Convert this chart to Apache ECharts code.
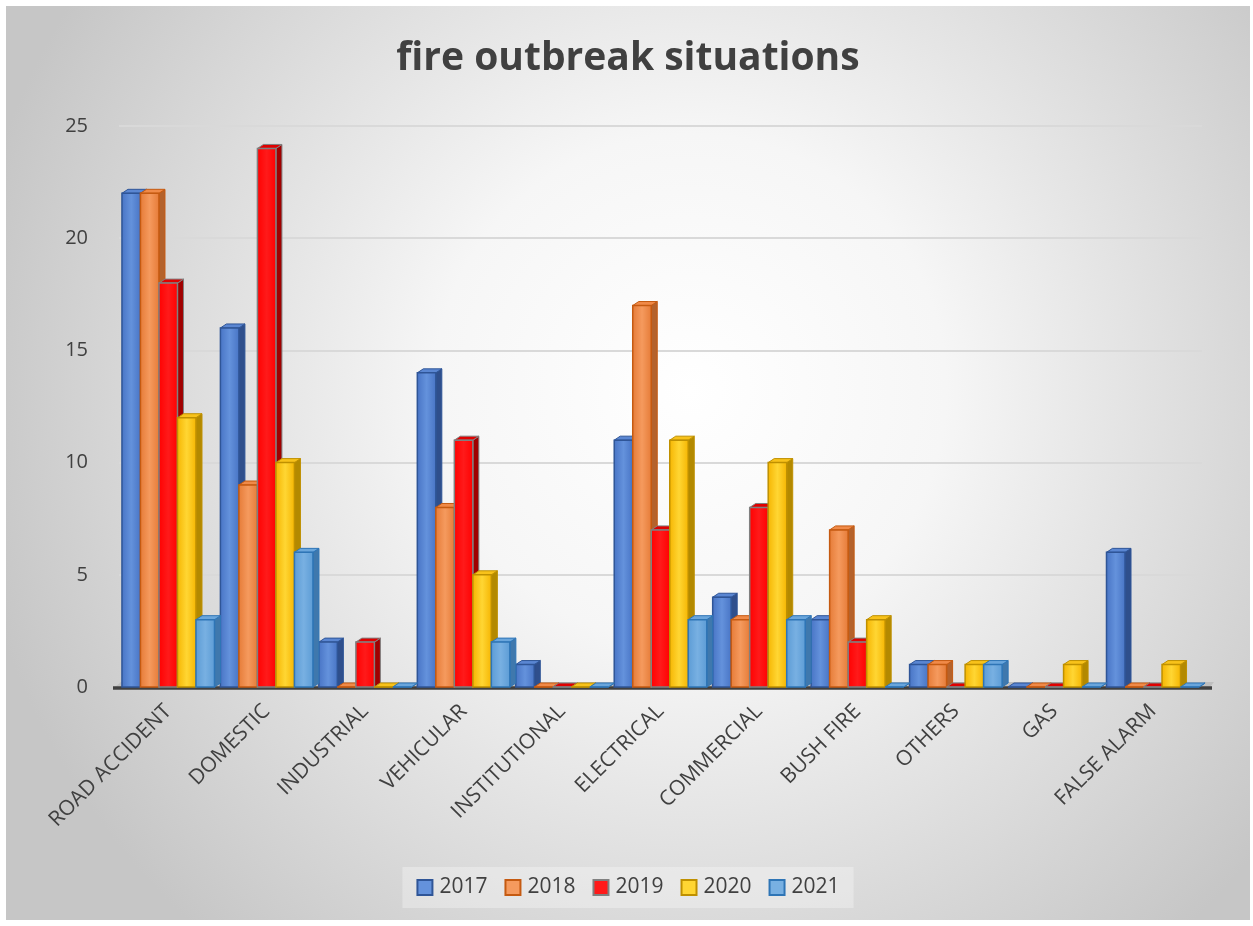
<!DOCTYPE html>
<html>
<head>
<meta charset="utf-8">
<title>fire outbreak situations</title>
<script src="https://cdn.jsdelivr.net/npm/echarts@6/dist/echarts.min.js"></script>
<style>
  html, body { margin: 0; padding: 0; background: #ffffff; }
  #chart { position: absolute; left: 6px; top: 6px; width: 1244px; height: 914px; }
</style>
</head>
<body>
<div id="chart"></div>
<script>
// Incident categories and yearly counts
const categories = ['ROAD ACCIDENT', 'DOMESTIC', 'INDUSTRIAL', 'VEHICULAR', 'INSTITUTIONAL',
  'ELECTRICAL', 'COMMERCIAL', 'BUSH FIRE', 'OTHERS', 'GAS', 'FALSE ALARM'];
const years = ['2017', '2018', '2019', '2020', '2021'];
const v2017 = [22, 16, 2, 14, 1, 11, 4, 3, 1, 0, 6];
const v2018 = [22, 9, 0, 8, 0, 17, 3, 7, 1, 0, 0];
const v2019 = [18, 24, 2, 11, 0, 7, 8, 2, 0, 0, 0];
const v2020 = [12, 10, 0, 5, 0, 11, 10, 3, 1, 1, 1];
const v2021 = [3, 6, 0, 2, 0, 3, 3, 0, 1, 0, 0];
const yTicks = { min: 0, max: 25, interval: 5 };

const seriesValues = [v2017, v2018, v2019, v2020, v2021];

// Face colours for the pseudo-3D columns: front edge/centre, side, top, border
const palette = [
  { edge: '#4773c4', mid: '#6492dc', side: '#2f4f8c', top: '#5a86d2', border: '#2f5597' },
  { edge: '#e57a36', mid: '#f59a5e', side: '#b4622c', top: '#f08a48', border: '#c55a11' },
  { edge: '#ff0000', mid: '#ff1a1a', side: '#a00000', top: '#e00000', border: '#808080' },
  { edge: '#f5b400', mid: '#ffd633', side: '#b38900', top: '#f8c21a', border: '#bf9000' },
  { edge: '#5b9bd5', mid: '#78b0e2', side: '#3f78ad', top: '#6aa6dc', border: '#2e75b6' }
];

const textColor = '#404040';
const fontFamily = '"Open Sans", "Liberation Sans", sans-serif';

function columnRenderer(s) {
  const c = palette[s];
  return function (params, api) {
    const i = api.value(0);
    const v = api.value(1);
    const topPt = api.coord([i, v]);
    const basePt = api.coord([i, 0]);
    const catW = api.size([1, 0])[0];
    const groupW = catW * 0.94;
    const w = groupW / 5;
    const x0 = topPt[0] - groupW / 2 + s * w;
    const x1 = x0 + w;
    const yT = topPt[1];
    const yB = basePt[1];
    const dx = 6, dy = -4;
    return {
      type: 'group',
      children: [
        {
          type: 'polygon',
          shape: { points: [[x1, yT], [x1 + dx, yT + dy], [x1 + dx, yB + dy], [x1, yB]] },
          style: { fill: c.side, stroke: c.border, lineWidth: 1 }
        },
        {
          type: 'polygon',
          shape: { points: [[x0, yT], [x0 + dx, yT + dy], [x1 + dx, yT + dy], [x1, yT]] },
          style: { fill: c.top, stroke: c.border, lineWidth: 1 }
        },
        {
          type: 'rect',
          shape: { x: x0, y: yT, width: w, height: Math.max(yB - yT, 0) },
          style: {
            fill: {
              type: 'linear', x: 0, y: 0, x2: 1, y2: 0,
              colorStops: [
                { offset: 0, color: c.edge },
                { offset: 0.5, color: c.mid },
                { offset: 1, color: c.edge }
              ]
            },
            stroke: c.border,
            lineWidth: 1.5
          }
        }
      ]
    };
  };
}

// Grey floor slab and dark base line beneath the columns
function floorRenderer(params, api) {
  const cs = params.coordSys;
  const yB = cs.y + cs.height;
  const xL = cs.x - 4;
  const xR = cs.x + cs.width + 10;
  return {
    type: 'group',
    children: [
      {
        type: 'polygon',
        shape: { points: [[xL, yB], [xL + 6, yB - 5], [xR + 2, yB - 5], [xR - 2, yB]] },
        style: { fill: '#bfbfbf' }
      },
      {
        type: 'line',
        shape: { x1: xL - 2, y1: yB + 1, x2: xR, y2: yB + 1 },
        style: { stroke: '#404040', lineWidth: 3.5 }
      }
    ]
  };
}

const series = [{
  type: 'custom',
  name: 'floor',
  renderItem: floorRenderer,
  data: [[0, 0]],
  silent: true,
  clip: false,
  z: 1
}];

years.forEach(function (yr, s) {
  series.push({
    type: 'custom',
    name: yr,
    renderItem: columnRenderer(s),
    encode: { x: 0, y: 1 },
    data: seriesValues[s].map(function (v, i) { return [i, v]; }),
    itemStyle: { color: palette[s].mid, borderColor: palette[s].border, borderWidth: 1.5 },
    clip: false,
    z: 2
  });
});

const chart = echarts.init(document.getElementById('chart'), null, { renderer: 'canvas' });
chart.setOption({
  backgroundColor: {
    type: 'radial', x: 0.55, y: 0.42, r: 0.8,
    colorStops: [
      { offset: 0, color: '#ffffff' },
      { offset: 0.35, color: '#f6f6f6' },
      { offset: 1, color: '#c6c6c6' }
    ]
  },
  animation: false,
  title: {
    text: 'fire outbreak situations',
    left: 'center',
    top: 28,
    textStyle: { color: textColor, fontSize: 39, fontWeight: 'bold', fontFamily: fontFamily }
  },
  legend: {
    bottom: 12,
    left: 'center',
    data: years,
    itemWidth: 15,
    itemHeight: 15,
    itemGap: 17,
    icon: 'rect',
    padding: [10, 14],
    backgroundColor: 'rgba(255,255,255,0.3)',
    textStyle: { color: textColor, fontSize: 21, fontFamily: fontFamily, padding: [0, 0, 0, 2] }
  },
  grid: { left: 113, right: 48, top: 120, bottom: 233, containLabel: false },
  xAxis: {
    type: 'category',
    data: categories,
    axisTick: { show: false },
    axisLine: { show: false },
    axisLabel: { rotate: 45, interval: 0, margin: 21, color: textColor, fontSize: 21, fontFamily: fontFamily }
  },
  yAxis: {
    type: 'value',
    min: yTicks.min,
    max: yTicks.max,
    interval: yTicks.interval,
    axisLine: { show: false },
    axisTick: { show: false },
    axisLabel: { margin: 31, color: textColor, fontSize: 20, fontFamily: fontFamily },
    splitLine: { lineStyle: { color: '#d9d9d9', width: 2 } }
  },
  series: series
});
</script>
</body>
</html>
